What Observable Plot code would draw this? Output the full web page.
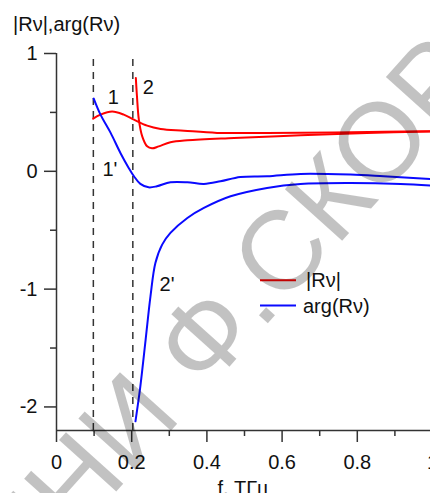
<!DOCTYPE html>
<html><head><meta charset="utf-8">
<script src="https://cdn.jsdelivr.net/npm/d3@7"></script>
<script src="https://cdn.jsdelivr.net/npm/@observablehq/plot@0.6"></script>
<style>body{margin:0;background:#fff;overflow:hidden}</style>
</head><body><div id="chart"></div>
<script>
// curve 1: |R| (red)
const f1 = [0.0975,0.117,0.148,0.179,0.206,0.241,0.277,0.339,0.427,0.56,0.738,0.87,1.0];
const r1 = [0.447,0.481,0.507,0.481,0.439,0.388,0.36,0.345,0.326,0.326,0.33,0.335,0.34];
// curve 2: |R| (red)
const f2 = [0.211,0.214,0.219,0.228,0.241,0.254,0.272,0.303,0.348,0.472,0.649,0.826,1.0];
const r2 = [0.793,0.637,0.439,0.297,0.212,0.195,0.212,0.246,0.263,0.283,0.306,0.326,0.338];
// curve 1': arg(R) (blue)
const fa1 = [0.099,0.117,0.144,0.17,0.192,0.206,0.223,0.245,0.267,0.303,0.348,0.392,0.436,0.489,0.56,0.649,0.782,0.87,1.0];
const a1 = [0.617,0.481,0.326,0.156,0.029,-0.042,-0.107,-0.136,-0.127,-0.093,-0.093,-0.107,-0.085,-0.048,-0.042,-0.022,-0.028,-0.042,-0.066];
// curve 2': arg(R) (blue)
const fa2 = [0.21,0.2145,0.223,0.237,0.25,0.263,0.281,0.303,0.348,0.392,0.463,0.56,0.649,0.782,0.915,1.0];
const a2 = [-2.122,-2.023,-1.825,-1.43,-1.06,-0.778,-0.622,-0.523,-0.396,-0.311,-0.212,-0.141,-0.107,-0.099,-0.107,-0.122];
// dashed guide lines
const guides = [0.098, 0.203];
// curve labels
const labelText = ["1","2","1'","2'"];
const labelF = [0.151,0.244,0.142,0.294];
const labelV = [0.623,0.708,0.014,-0.962];
// ticks
const xTicks = [0,0.2,0.4,0.6,0.8,1];
const xMinor = [0.1,0.3,0.5,0.7,0.9];
const yTicks = [1,0,-1,-2];
const yMinor = [0.5,-0.5,-1.5];
const titleText = "|Rν|,arg(Rν)";
const xLabel = "f, ТГц";
const legendLabels = ["|Rν|","arg(Rν)"];
const colors = ["#ff0000","#0a0aff"];

const toRows = (fs, vs) => fs.map((f,i)=>({f, v: vs[i]}));
const FONT = "Liberation Sans, Arial, sans-serif";
const FS = 20;
const AX = "#333";

const chart = Plot.plot({
  width: 430, height: 493,
  marginLeft: 56, marginRight: -2, marginTop: 53, marginBottom: 63,
  style: {fontFamily: FONT, fontSize: FS + "px", color: "#111", background: "#fff", overflow: "visible"},
  x: {domain: [0,1], axis: null},
  y: {domain: [-2.2,1], axis: null},
  marks: [
    Plot.ruleX(guides, {y1: -2.2, y2: 1, stroke: AX, strokeWidth: 1.5, strokeDasharray: "7,6"}),
    Plot.line(toRows(f1,r1), {x:"f", y:"v", stroke: colors[0], strokeWidth: 2, curve: "catmull-rom"}),
    Plot.line(toRows(f2,r2), {x:"f", y:"v", stroke: colors[0], strokeWidth: 2, curve: "catmull-rom"}),
    Plot.line(toRows(fa1,a1), {x:"f", y:"v", stroke: colors[1], strokeWidth: 2, curve: "catmull-rom"}),
    Plot.line(toRows(fa2,a2), {x:"f", y:"v", stroke: colors[1], strokeWidth: 2, curve: "catmull-rom"}),
    Plot.text(labelText, {x: (d,i)=>labelF[i], y: (d,i)=>labelV[i], text: d=>d, fontSize: FS, fill: "#111"}),
    Plot.ruleX([0], {y1: -2.2, y2: 1, stroke: AX, strokeWidth: 1.5}),
    Plot.ruleY([-2.2], {x1: 0, x2: 1.01, stroke: AX, strokeWidth: 1.5}),
    Plot.axisX(xTicks, {tickSize: 12, tickPadding: 12, tickFormat: d=>String(d), stroke: AX, strokeWidth: 1.5, fontSize: FS, label: null}),
    Plot.axisX(xMinor, {tickSize: 6, tickFormat: ()=>"", stroke: AX, strokeWidth: 1.5, label: null}),
    Plot.axisY(yTicks, {tickSize: 12, tickPadding: 7, tickFormat: d=>String(d), stroke: AX, strokeWidth: 1.5, fontSize: FS, label: null}),
    Plot.axisY(yMinor, {tickSize: 6, tickFormat: ()=>"", stroke: AX, strokeWidth: 1.5, label: null})
  ]
});

const svg = d3.select(chart);
// title
svg.append("text").attr("x", 13).attr("y", 30.5).attr("text-anchor", "start").attr("font-family", FONT).attr("font-size", FS).attr("fill", "#111").text(titleText);
// x label
svg.append("text").attr("x", 243).attr("y", 495).attr("text-anchor", "middle").attr("font-family", FONT).attr("font-size", FS).attr("fill", "#111").text(xLabel);
// legend
const lg = svg.append("g").attr("text-anchor", "start");
legendLabels.forEach((t,i)=>{
  const y = 280.3 + i*25.3;
  lg.append("line").attr("x1", 260).attr("x2", 296).attr("y1", y).attr("y2", y).attr("stroke", colors[i]).attr("stroke-width", 2);
  lg.append("text").attr("x", i===0 ? 306 : 303).attr("y", y).attr("dy", "0.35em").attr("font-family", FONT).attr("font-size", FS).attr("fill", "#111").text(t);
});
// watermark
const wm = svg.append("g").attr("transform", "translate(204,394) rotate(-48)")
  .attr("font-family", FONT).attr("font-size", 112).attr("fill", "#000").attr("fill-opacity", 0.24);
wm.append("text").attr("x", -31).attr("text-anchor", "end").text("ГГУ ИМЕНИ");
wm.append("text").attr("x", 0).attr("text-anchor", "start").text("Ф.СКОРИНЫ");

document.getElementById("chart").appendChild(chart);
</script>
</body></html>
